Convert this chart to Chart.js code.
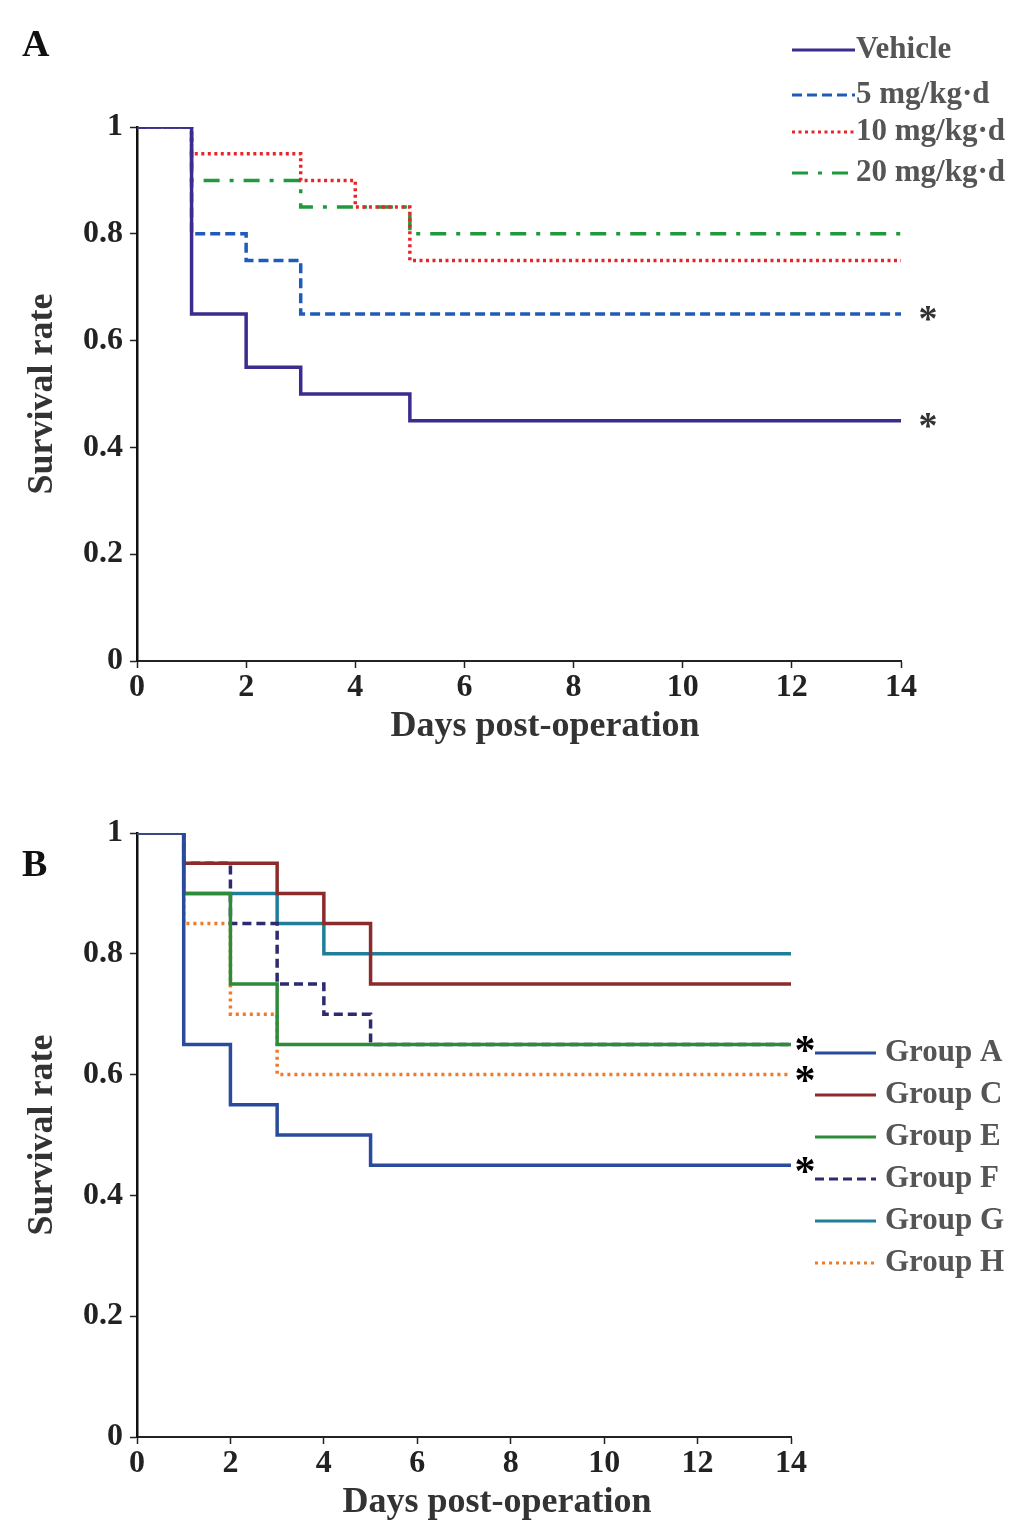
<!DOCTYPE html>
<html><head><meta charset="utf-8">
<script src="https://cdn.jsdelivr.net/npm/chart.js@4.4.0/dist/chart.umd.min.js"></script>
<style>
html,body{margin:0;padding:0;background:#fff;width:1033px;height:1532px;overflow:hidden}
canvas{position:absolute;left:0}
#ca{top:0}
#cb{top:760px}
</style></head><body>
<canvas id="ca" width="1033" height="760"></canvas>
<canvas id="cb" width="1033" height="772"></canvas>
<script>
// ---------- DATA ----------
const days = [0, 1, 2, 3, 4, 5, 14];
const xTicks = [0, 2, 4, 6, 8, 10, 12, 14];
const yTicks = [0, 0.2, 0.4, 0.6, 0.8, 1];

// Panel A
const namesA = ['Vehicle', '5 mg/kg\u00b7d', '10 mg/kg\u00b7d', '20 mg/kg\u00b7d'];
const vehicle = [1, 0.65, 0.55, 0.5, 0.5, 0.45, 0.45];
const mg5     = [1, 0.8, 0.75, 0.65, 0.65, 0.65, 0.65];
const mg10    = [1, 0.95, 0.95, 0.9, 0.85, 0.75, 0.75];
const mg20    = [1, 0.9, 0.9, 0.85, 0.85, 0.8, 0.8];
const starsA  = [0.65, 0.45];

// Panel B
const namesB = ['Group A', 'Group C', 'Group E', 'Group F', 'Group G', 'Group H'];
const groupA = [1, 0.65, 0.55, 0.5, 0.5, 0.45, 0.45];
const groupC = [1, 0.95, 0.95, 0.9, 0.85, 0.75, 0.75];
const groupE = [1, 0.9, 0.75, 0.65, 0.65, 0.65, 0.65];
const groupF = [1, 0.95, 0.85, 0.75, 0.7, 0.65, 0.65];
const groupG = [1, 0.9, 0.9, 0.85, 0.8, 0.8, 0.8];
const groupH = [1, 0.85, 0.7, 0.6, 0.6, 0.6, 0.6];
const starsB = [0.65, 0.6, 0.45];

// ---------- STYLE ----------
const FAM = '"Liberation Serif", "DejaVu Serif", serif';

function ds(label, vals, color, dash, width) {
  return {
    label: label,
    data: days.map((d, i) => ({ x: d, y: vals[i] })),
    borderColor: color,
    borderDash: dash,
    borderWidth: width,
    borderCapStyle: 'butt',
    stepped: 'before',
    pointRadius: 0,
    fill: false,
    tension: 0
  };
}

const extras = {
  id: 'extras',
  afterDraw(chart, args, o) {
    const ctx = chart.ctx;
    const xs = chart.scales.x, ys = chart.scales.y;
    ctx.save();
    ctx.textBaseline = 'middle';
    // panel letter
    ctx.font = 'bold 38px ' + FAM;
    ctx.fillStyle = '#111';
    ctx.textAlign = 'left';
    ctx.fillText(o.panel, o.panelX, o.panelY);
    // x title
    ctx.font = 'bold 36px ' + FAM;
    ctx.fillStyle = '#333';
    ctx.textAlign = 'center';
    ctx.fillText('Days post-operation', o.xtX, o.xtY);
    // stars
    ctx.font = o.starFont;
    ctx.fillStyle = o.starColor;
    o.stars.forEach(v => {
      ctx.fillText('*', xs.getPixelForValue(14) + o.starDx, ys.getPixelForValue(v) + o.starDy);
    });
    // legend
    chart.data.datasets.forEach((d, i) => {
      const y = o.legY[i];
      ctx.beginPath();
      ctx.setLineDash(d.borderDash || []);
      ctx.strokeStyle = d.borderColor;
      ctx.lineWidth = o.legLW;
      ctx.moveTo(o.legX0, y);
      ctx.lineTo(o.legX1, y);
      ctx.stroke();
      ctx.setLineDash([]);
      ctx.font = 'bold ' + o.legSize + 'px ' + FAM;
      ctx.fillStyle = '#555';
      ctx.textAlign = 'left';
      ctx.fillText(d.label, o.legTX, y);
    });
    ctx.restore();
  }
};

function scales(HX, WY) {
  return {
    x: {
      type: 'linear', min: 0, max: 14,
      afterBuildTicks: s => { s.ticks = xTicks.map(v => ({ value: v })); },
      afterFit: s => { s.height = HX; s.paddingLeft = 0; s.paddingRight = 0; },
      ticks: { font: { family: FAM, size: 32, weight: 'bold' }, color: '#222', padding: 1, maxRotation: 0, autoSkip: false,
               callback: v => String(v) },
      grid: { drawOnChartArea: false, tickLength: 7, color: '#222', tickWidth: 1.5 },
      border: { color: '#222', width: 2 }
    },
    y: {
      type: 'linear', min: 0, max: 1,
      afterBuildTicks: s => { s.ticks = yTicks.map(v => ({ value: v })); },
      afterFit: s => { s.width = WY; s.paddingTop = 0; s.paddingBottom = 0; },
      ticks: { font: { family: FAM, size: 32, weight: 'bold' }, color: '#222', padding: 7,
               callback: v => String(Math.round(v * 10) / 10) },
      grid: { drawOnChartArea: false, tickLength: 7, color: '#222', tickWidth: 1.5 },
      border: { color: '#111', width: 2.5 },
      title: { display: true, text: 'Survival rate', color: '#333',
               font: { family: FAM, size: 36, weight: 'bold' }, padding: { top: 2, bottom: 0 } }
    }
  };
}

const common = {
  responsive: false, animation: false, devicePixelRatio: 1,
  plugins: { legend: { display: false }, tooltip: { enabled: false } }
};

new Chart(document.getElementById('ca'), {
  type: 'line',
  data: {
    datasets: [
      ds(namesA[0], vehicle, '#3d2b8e', [], 3.5),
      ds(namesA[1], mg5, '#1f5cb8', [10, 5], 3.5),
      ds(namesA[2], mg10, '#e8262a', [3, 3.5], 3.5),
      ds(namesA[3], mg20, '#1e9a3c', [16, 10, 4, 10], 3.5)
    ]
  },
  options: Object.assign({}, common, {
    layout: { padding: { left: 19, right: 132, top: 127, bottom: 39 } },
    scales: scales(60, 118),
    plugins: Object.assign({}, common.plugins, {
      extras: {
        panel: 'A', panelX: 22, panelY: 46,
        xtX: 545, xtY: 727,
        stars: starsA, starDx: 27, starDy: 7, starFont: 'bold 38px ' + FAM, starColor: '#333',
        legY: [50, 95, 132, 173], legX0: 792, legX1: 855, legTX: 856, legLW: 3, legSize: 31
      }
    })
  }),
  plugins: [extras]
});

new Chart(document.getElementById('cb'), {
  type: 'line',
  data: {
    datasets: [
      ds(namesB[0], groupA, '#2a4b9b', [], 3.5),
      ds(namesB[1], groupC, '#8c2b2b', [], 3.5),
      ds(namesB[2], groupE, '#2e8b3a', [], 3.5),
      ds(namesB[3], groupF, '#2d2a6e', [9, 5], 3.5),
      ds(namesB[4], groupG, '#1f7f9a', [], 3.5),
      ds(namesB[5], groupH, '#f07a2a', [3, 4], 3.5)
    ]
  },
  options: Object.assign({}, common, {
    layout: { padding: { left: 19, right: 242, top: 73, bottom: 35 } },
    scales: scales(60, 118),
    plugins: Object.assign({}, common.plugins, {
      extras: {
        panel: 'B', panelX: 22, panelY: 106,
        xtX: 497, xtY: 743,
        stars: starsB, starDx: 14, starDy: 9, starFont: 'bold 42px ' + FAM, starColor: '#000',
        legY: [293, 335, 377, 419, 461, 503], legX0: 815, legX1: 876, legTX: 885, legLW: 3, legSize: 31
      }
    })
  }),
  plugins: [extras]
});
</script>
</body></html>
